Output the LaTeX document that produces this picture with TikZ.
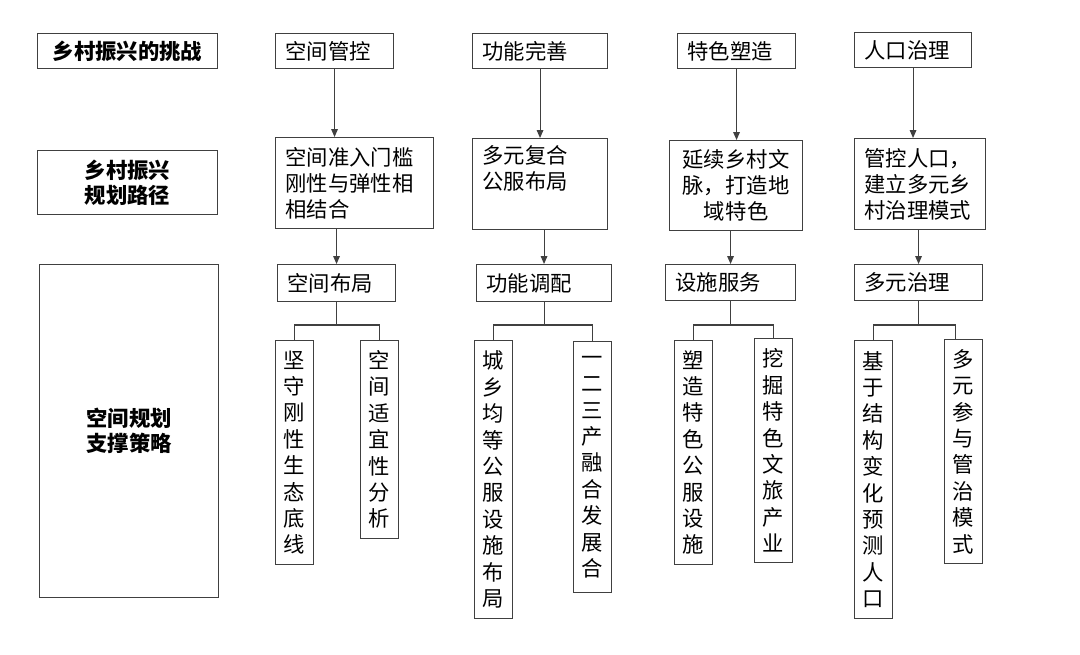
\documentclass[tikz,border=0pt]{standalone}
\usepackage{fontspec}
\setmainfont{Noto Sans CJK SC}
\XeTeXlinebreaklocale "zh"
\XeTeXlinebreakskip=0pt plus 1pt
\usetikzlibrary{arrows.meta}
\definecolor{linegray}{RGB}{64,64,64}
\tikzset{
  head/.style 2 args={draw=linegray, line width=0.8pt, anchor=north west, inner sep=0pt,
    minimum width=#1*0.75pt, minimum height=#2*0.75pt, align=center,
    font=\fontsize{16}{19}\selectfont\bfseries},
  cell/.style 2 args={draw=linegray, line width=0.8pt, anchor=north west, inner xsep=7.5pt, inner ysep=0pt,
    /utils/exec={\pgfmathsetlengthmacro\celltw{#1*0.75pt-15pt}}, text width=\celltw,
    minimum height=#2*0.75pt, align=left, font=\fontsize{16}{19.5}\selectfont},
  leaf/.style={draw=linegray, line width=0.8pt, anchor=north west, inner sep=0pt,
    minimum width=28.5pt, minimum height=#1*0.75pt, text width=16pt, align=center,
    font=\fontsize{16}{19.8}\selectfont},
  arr/.style={draw=linegray, line width=0.8pt, -{Triangle[length=6pt,width=5pt]}},
  link/.style={draw=linegray, line width=0.8pt}
}
\begin{document}
\begin{tikzpicture}[x=0.75pt,y=0.75pt,yscale=-1,xscale=1]
\useasboundingbox (0,0) rectangle (1080,654);

% Row labels
\node (chal) at (37,33) [head={180}{35}] {乡村振兴的挑战};
\node (route) at (37,150) [head={180}{64}] {乡村振兴\\规划路径};
\node (strat) at (39,264) [head={179}{333}] {空间规划\\支撑策略};

% Column 1
\node (ctrl1) at (275,33) [cell={118}{35}] {空间管控};
\node (path1) at (275,137) [cell={158}{91}] {空间准入门槛\\刚性与弹性相\\相结合};
\node (lay1) at (277,264) [cell={118}{37}] {空间布局};
\node (leaf11) at (275,340) [leaf=224] {坚守刚性生态底线};
\node (leaf12) at (360,340) [leaf=198] {空间适宜性分析};

% Column 2
\node (ctrl2) at (472,33) [cell={135}{35}] {功能完善};
\node (path2) at (472,138) [cell={135}{91}] {多元复合\\公服布局\\\strut};
\node (lay2) at (476,264) [cell={135}{37}] {功能调配};
\node (leaf21) at (474,340) [leaf=278] {城乡均等公服设施布局};
\node (leaf22) at (573,341) [leaf=251] {一二三产融合发展合};

% Column 3
\node (ctrl3) at (677,33) [cell={118}{35}] {特色塑造};
\node (path3) at (669,140) [cell={133}{90}, align=center] {延续乡村文\\脉，打造地\\域特色};
\node (lay3) at (665,264) [cell={130}{36}] {设施服务};
\node (leaf31) at (674,340) [leaf=224] {塑造特色公服设施};
\node (leaf32) at (754,338) [leaf=224] {挖掘特色文旅产业};

% Column 4
\node (ctrl4) at (854,32) [cell={117}{35}] {人口治理};
\node (path4) at (854,138) [cell={131}{91}] {管控人口，\\建立多元乡\\村治理模式};
\node (lay4) at (854,264) [cell={128}{36}] {多元治理};
\node (leaf41) at (854,340) [leaf=278] {基于结构变化预测人口};
\node (leaf42) at (944,339) [leaf=224] {多元参与管治模式};

% Arrows
\draw [arr] (ctrl1.south) -- (ctrl1.south |- path1.north);
\draw [arr] (lay1.north |- path1.south) -- (lay1.north);
\draw [arr] (ctrl2.south) -- (ctrl2.south |- path2.north);
\draw [arr] (lay2.north |- path2.south) -- (lay2.north);
\draw [arr] (ctrl3.south) -- (ctrl3.south |- path3.north);
\draw [arr] (lay3.north |- path3.south) -- (lay3.north);
\draw [arr] (ctrl4.south) -- (ctrl4.south |- path4.north);
\draw [arr] (lay4.north |- path4.south) -- (lay4.north);

% Forks
\coordinate (fork1) at (lay1.south |- 0,325);
\coordinate (fork2) at (lay2.south |- 0,325);
\coordinate (fork3) at (lay3.south |- 0,325);
\coordinate (fork4) at (lay4.south |- 0,325);
\draw [link] (lay1.south) -- (fork1);
\draw [link] (leaf11.north) |- (fork1) -| (leaf12.north);
\draw [link] (lay2.south) -- (fork2);
\draw [link] (leaf21.north) |- (fork2) -| (leaf22.north);
\draw [link] (lay3.south) -- (fork3);
\draw [link] (leaf31.north) |- (fork3) -| (leaf32.north);
\draw [link] (lay4.south) -- (fork4);
\draw [link] (leaf41.north) |- (fork4) -| ([xshift=-6pt]leaf42.north);

\end{tikzpicture}
\end{document}
